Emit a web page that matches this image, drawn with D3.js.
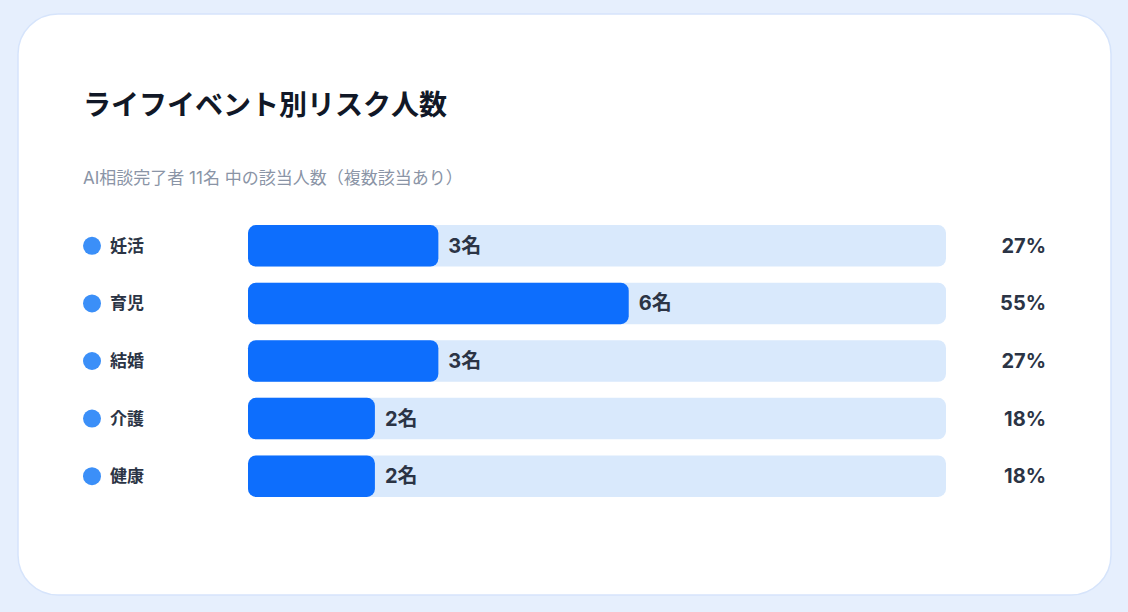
<!DOCTYPE html>
<html><head><meta charset="utf-8">
<script src="https://cdn.jsdelivr.net/npm/d3@7"></script>
<style>
body{margin:0;background:#e6effd;font-family:Inter,"Noto Sans CJK JP",sans-serif;}
</style></head><body>
<script>
const categories = ['妊活', '育児', '結婚', '介護', '健康']
const counts = [3, 6, 3, 2, 2]
const percents = ['27%', '55%', '27%', '18%', '18%']
const total = 11

const W = 1128, H = 612
const svg = d3.select('body').append('svg').attr('width', W).attr('height', H)

svg.append('rect').attr('x', 18).attr('y', 14).attr('width', 1093).attr('height', 581)
  .attr('rx', 40).attr('fill', '#fff').attr('stroke', '#d6e4fb').attr('stroke-width', 1.5)

svg.append('text').attr('x', 83).attr('y', 115).attr('font-size', 28).attr('font-weight', 700)
  .attr('fill', '#111827').text('ライフイベント別リスク人数')
svg.append('text').attr('x', 83).attr('y', 184).attr('font-size', 17)
  .attr('fill', '#8a94a6').text('AI相談完了者 11名 中の該当人数（複数該当あり）')

const x = d3.scaleLinear().domain([0, total]).range([248, 946])
const y = d3.scaleBand().domain(categories).range([217, 505]).paddingInner(0.28).paddingOuter(0.14)

const row = svg.append('g').selectAll('g').data(categories).enter().append('g')
  .attr('transform', d => `translate(0,${y(d)})`)
const bh = y.bandwidth()

row.append('circle').attr('cx', 92).attr('cy', bh / 2).attr('r', 9).attr('fill', '#3b8ff8')
row.append('text').attr('x', 110).attr('y', bh / 2).attr('dy', '0.35em').attr('font-size', 17)
  .attr('font-weight', 700).attr('fill', '#2b3445').text(d => d)
row.append('rect').attr('x', x(0)).attr('width', x(total) - x(0)).attr('height', bh)
  .attr('rx', 8).attr('fill', '#d9e9fc')
row.append('rect').attr('x', x(0)).attr('width', (d, i) => x(counts[i]) - x(0)).attr('height', bh)
  .attr('rx', 8).attr('fill', '#0d6efd')
row.append('text').attr('x', (d, i) => x(counts[i]) + 10).attr('y', bh / 2).attr('dy', '0.35em')
  .attr('font-size', 20).attr('font-weight', 700).attr('fill', '#2b3445').text((d, i) => counts[i] + '名')
row.append('text').attr('x', 1046).attr('y', bh / 2).attr('dy', '0.35em').attr('text-anchor', 'end')
  .attr('font-size', 20).attr('font-weight', 700).attr('fill', '#2b3445').text((d, i) => percents[i])
</script>
</body></html>
